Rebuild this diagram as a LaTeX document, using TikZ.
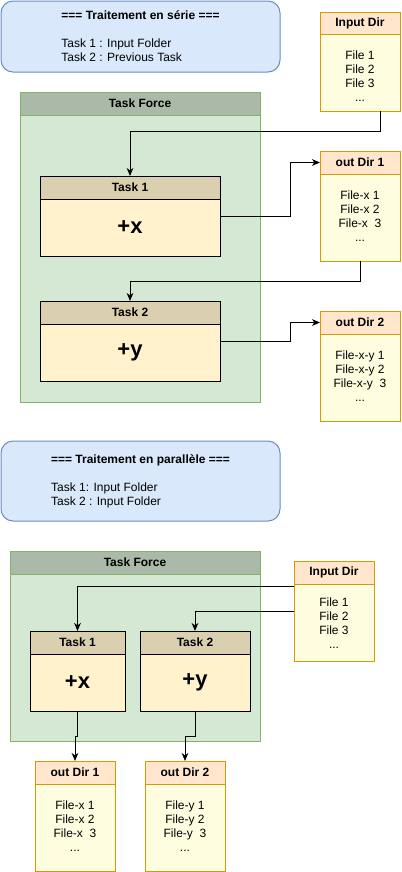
\documentclass[tikz,border=0pt]{standalone}
\usepackage{fontspec}
\setmainfont{Liberation Sans}
\usetikzlibrary{calc,arrows.meta}
\definecolor{bluefill}{HTML}{DAE8FC}
\definecolor{bluedraw}{HTML}{6C8EBF}
\definecolor{greenfill}{HTML}{D5E8D4}
\definecolor{greendraw}{HTML}{82B366}
\definecolor{tfhead}{HTML}{AAB9A8}
\definecolor{taskhead}{HTML}{DAD0B0}
\definecolor{taskbody}{HTML}{FFF2CC}
\definecolor{dirhead}{HTML}{FFE6CC}
\definecolor{dirdraw}{HTML}{D79B00}
\definecolor{dirbody}{HTML}{FFFDE0}
\newcommand{\mkbox}[7]{\node[#6, minimum width={0.75pt*(#4-#2)}, minimum height={0.75pt*(#5-#3)}] (#1) at ({(#2+#4)/2},{(#3+#5)/2}) {#7};}
\tikzset{
  base/.style={inner sep=0pt, outer sep=0pt, line width=0.75pt, font=\fontsize{9}{10.5}\selectfont},
  infobox/.style={base, draw=bluedraw, fill=bluefill, rounded corners=9pt},
  tfbodyst/.style={base, draw=greendraw, fill=greenfill},
  tfheadst/.style={base, draw=greendraw, fill=tfhead, font=\fontsize{9}{10.5}\selectfont\bfseries},
  taskbodyst/.style={base, draw=black, fill=taskbody, font=\fontsize{16.5}{19}\selectfont\bfseries},
  taskheadst/.style={base, draw=black, fill=taskhead, font=\fontsize{9}{10.5}\selectfont\bfseries},
  dirbodyst/.style={base, draw=dirdraw, fill=dirbody},
  dirheadst/.style={base, draw=dirdraw, fill=dirhead, font=\fontsize{9}{10.5}\selectfont\bfseries},
  outline/.style={base, draw=black},
  txt/.style={base, align=center},
  infotxt/.style={base, align=left},
  arr/.style={line width=0.75pt, draw=black, -{Stealth[length=6pt,width=5pt,inset=1.8pt]}},
}
\begin{document}
\begin{tikzpicture}[x=0.75pt,y=-0.75pt]
\useasboundingbox[fill=white] (0,0) rectangle (401,872);
% ===== Serial =====
\mkbox{info1}{1}{1}{280}{72}{infobox}{}
\node[infotxt] (info1t) at (info1.center) {\textbf{=== Traitement en série ===}\\[10.5pt]Task 1 : Input Folder\\Task 2 : Previous Task};

\mkbox{tf1}{20}{92}{260}{402}{tfbodyst}{}
\mkbox{tf1h}{20}{92}{260}{115}{tfheadst}{Task Force}

\mkbox{t1b}{40}{199}{220}{256}{taskbodyst}{+x}
\mkbox{t1h}{40}{176}{220}{199}{taskheadst}{Task 1}
\mkbox{t1}{40}{176}{220}{256}{outline}{}

\mkbox{t2b}{40}{324}{220}{381}{taskbodyst}{+y}
\mkbox{t2h}{40}{301}{220}{324}{taskheadst}{Task 2}
\mkbox{t2}{40}{301}{220}{381}{outline}{}

\mkbox{in1}{320}{12}{400}{111}{dirbodyst}{}
\mkbox{in1h}{320}{12}{400}{34}{dirheadst}{Input Dir}
\node[txt] (in1t) at ($(in1h.south)!0.5!(in1.south)+(0,4)$) {File 1\\File 2\\File 3\\...};

\mkbox{o1}{320}{151}{400}{261}{dirbodyst}{}
\mkbox{o1h}{320}{151}{400}{174}{dirheadst}{out Dir 1}
\node[txt] (o1t) at ($(o1h.south)!0.5!(o1.south)+(0,-1)$) {File-x 1\\File-x 2\\File-x\ \ 3\\...};

\mkbox{o2}{320}{311}{400}{421}{dirbodyst}{}
\mkbox{o2h}{320}{311}{400}{334}{dirheadst}{out Dir 2}
\node[txt] (o2t) at ($(o2h.south)!0.5!(o2.south)+(0,-1)$) {File-x-y 1\\File-x-y 2\\File-x-y\ \ 3\\...};

\draw[arr] ($(in1.south)+(20,0)$) -- ++(0,20) -| (t1.north);
\draw[arr] (t1.east) -- ++(70,0) |- (o1h.west);
\draw[arr] (o1.south) -- ++(0,20) -| (t2.north);
\draw[arr] (t2.east) -- ++(70,0) |- (o2h.west);

% ===== Parallel =====
\mkbox{info2}{1}{441}{280}{521}{infobox}{}
\node[infotxt] (info2t) at (info2.center) {\textbf{=== Traitement en parallèle ===}\\[10.5pt]Task 1: Input Folder\\Task 2 : Input Folder};

\mkbox{tf2}{10}{551}{260}{741}{tfbodyst}{}
\mkbox{tf2h}{10}{551}{260}{574}{tfheadst}{Task Force}

\mkbox{pt1b}{30}{654}{125}{711}{taskbodyst}{+x}
\mkbox{pt1h}{30}{631}{125}{654}{taskheadst}{Task 1}
\mkbox{pt1}{30}{631}{125}{711}{outline}{}

\mkbox{pt2b}{140}{654}{250}{711}{taskbodyst}{+y}
\mkbox{pt2h}{140}{631}{250}{654}{taskheadst}{Task 2}
\mkbox{pt2}{140}{631}{250}{711}{outline}{}

\mkbox{ip}{294}{561}{374}{661}{dirbodyst}{}
\mkbox{iph}{294}{561}{374}{584}{dirheadst}{Input Dir}
\node[txt] (ipt) at ($(iph.south)!0.5!(ip.south)+(0,1)$) {File 1\\File 2\\File 3\\...};

\mkbox{po1}{35}{761}{115}{871}{dirbodyst}{}
\mkbox{po1h}{35}{761}{115}{784}{dirheadst}{out Dir 1}
\node[txt] (po1t) at ($(po1h.south)!0.5!(po1.south)+(0,-1)$) {File-x 1\\File-x 2\\File-x\ \ 3\\...};

\mkbox{po2}{145}{761}{225}{871}{dirbodyst}{}
\mkbox{po2h}{145}{761}{225}{784}{dirheadst}{out Dir 2}
\node[txt] (po2t) at ($(po2h.south)!0.5!(po2.south)+(0,-1)$) {File-y 1\\File-y 2\\File-y\ \ 3\\...};

\draw[arr] ($(ip.north west)!0.25!(ip.south west)$) -| (pt1.north);
\draw[arr] (ip.west) -| (pt2.north);
\draw[arr] (pt1.south) -- ++(0,25) -| (po1.north);
\draw[arr] (pt2.south) -- ++(0,25) -| (po2.north);
\end{tikzpicture}
\end{document}
